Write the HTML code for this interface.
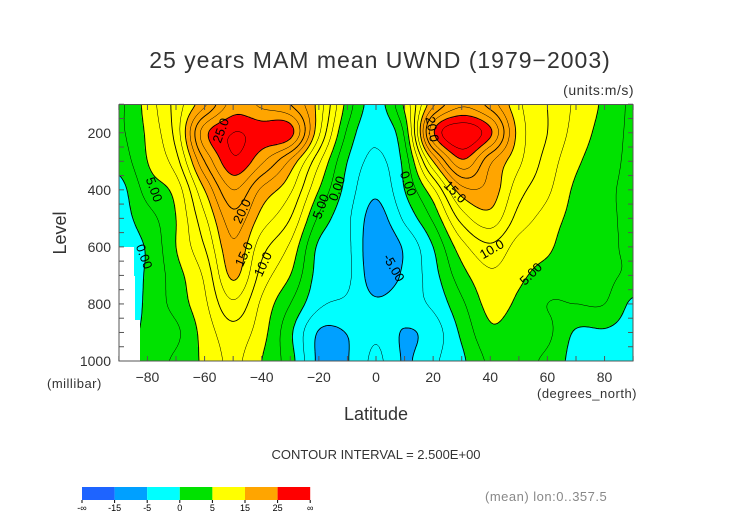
<!DOCTYPE html>
<html><head><meta charset="utf-8"><style>
html,body{margin:0;padding:0;background:#fff;}
#wrap{position:relative;width:752px;height:532px;overflow:hidden;font-family:"Liberation Sans",sans-serif;}
#fill{position:absolute;left:119px;top:105px;}
svg{position:absolute;left:0;top:0;}
</style></head><body>
<div id="wrap">
<canvas id="fill" width="514" height="256"></canvas>
<svg id="svg" width="752" height="532"></svg>
</div>
<script>
const lats=[-90,-80,-70,-60,-50,-40,-30,-20,-10,0,10,20,30,40,50,60,70,80,90];
const levels=[100,200,300,400,500,600,700,800,900,1000];
const u100=[2,6,11,17,23.5,22,20,14,4,-1,5.5,17,22,19,13,10,7,4.5,2];
const u200=[2,5.5,11,24,27.5,26.5,26,13,2,-2,3,24.5,29.5,25.5,14,10,6.5,4,2];
const u300=[1,5,9,20,27,23,17,8,0,-3,1,15,24.5,18,13,9,5.5,3.5,2];
const u400=[-1,3.5,6,15,22.5,17,13,5,-1,-4.5,0,7,16.5,16.5,11,8,4.5,3,2];
const u500=[-1,1.5,5,12,19,14,10,2,-2,-6,-2,3,11,14,9,6.5,4,3,2];
const u600=[-1,0.3,5,10,17,11,7,-0.5,-2,-7,-4.6,0,6.5,9.5,6.5,5.5,3,3,2];
const u700=[-1,0.3,4,8,15.5,9,5,-1,-2,-6.5,-4.5,-1,4,7,5.5,4,3,3,2];
const u800=[-2,0.5,3.5,7,12,7,2.5,-2,-3,-4.5,-3.5,-2,2,5.8,4.5,2.5,2.5,2.5,-0.5];
const u900=[-1,0.5,2,6,9,6,0.5,-5.2,-4.9,-3,-5.2,-3.8,0.5,4.5,3.5,3,-0.3,-0.3,-1];
const u1000=[-1,1,3,5.5,8,5,1,-5.5,-5.1,-2,-5.2,-3,-0.5,3,3,2,-1,-1,-1];
const yTicks=[200,400,600,800,1000];
const xTicks=[-80,-60,-40,-20,0,20,40,60,80];
const barLabels=["-\u221e","-15","-5","0","5","15","25","\u221e"];
const U=[u100,u200,u300,u400,u500,u600,u700,u800,u900,u1000];

const X0=376,XS=2.857,YB=361,YS=0.2853;
const xOf=lat=>X0+lat*XS;
const yOf=p=>YB-(1000-p)*YS;
const NS="http://www.w3.org/2000/svg";
const svg=document.getElementById('svg');
function mk(tag,attrs,parent){const e=document.createElementNS(NS,tag);for(const k in attrs)e.setAttribute(k,attrs[k]);(parent||svg).appendChild(e);return e;}
function cr(p0,p1,p2,p3,t){return 0.5*(2*p1+(-p0+p2)*t+(2*p0-5*p1+4*p2-p3)*t*t+(-p0+3*p1-3*p2+p3)*t*t*t);}
function gv(j,i){j=Math.max(0,Math.min(levels.length-1,j));i=Math.max(0,Math.min(lats.length-1,i));return U[j][i];}
function field(lat,p){
  let fi=(lat-lats[0])/10; fi=Math.max(0,Math.min(lats.length-1.0001,fi));
  let fj=(p-levels[0])/100; fj=Math.max(0,Math.min(levels.length-1.0001,fj));
  const i=Math.floor(fi),j=Math.floor(fj),a=fi-i,b=fj-j;
  const r=[];
  for(let jj=-1;jj<=2;jj++)r.push(cr(gv(j+jj,i-1),gv(j+jj,i),gv(j+jj,i+1),gv(j+jj,i+2),a));
  return cr(r[0],r[1],r[2],r[3],b);
}
function color(v){
  if(v<-15)return[30,100,255];if(v<-5)return[0,160,255];if(v<0)return[0,255,255];
  if(v<5)return[0,226,0];if(v<15)return[255,255,0];if(v<25)return[255,165,0];return[255,0,0];
}
const cv=document.getElementById('fill'),ctx=cv.getContext('2d');
const img=ctx.createImageData(514,256);
for(let y=0;y<256;y++)for(let x=0;x<514;x++){
  const X=119+x+0.5,Y=105+y+0.5;
  const c=color(field((X-X0)/XS,1000-(YB-Y)/YS));
  const k=(y*514+x)*4;img.data[k]=c[0];img.data[k+1]=c[1];img.data[k+2]=c[2];img.data[k+3]=255;
}
ctx.putImageData(img,0,0);
const st=2,nx=257,ny=128,G=[];
for(let j=0;j<=ny;j++){G.push([]);for(let i=0;i<=nx;i++){const X=119+i*st,Y=105+j*st;G[j].push(field((X-X0)/XS,1000-(YB-Y)/YS));}}
const cg=mk('g',{});


for(let lv=-10;lv<=30;lv+=2.5){
  let d='';
  for(let j=0;j<ny;j++)for(let i=0;i<nx;i++){
    const v=[G[j][i],G[j][i+1],G[j+1][i+1],G[j+1][i]];
    const P=[[119+i*st,105+j*st],[119+(i+1)*st,105+j*st],[119+(i+1)*st,105+(j+1)*st],[119+i*st,105+(j+1)*st]];
    const pts=[];
    for(let e=0;e<4;e++){const a=v[e],b=v[(e+1)%4];
      if((a<lv)!==(b<lv)){const t=(lv-a)/(b-a);const p1=P[e],p2=P[(e+1)%4];pts.push([p1[0]+t*(p2[0]-p1[0]),p1[1]+t*(p2[1]-p1[1])]);}}
    for(let k=0;k+1<pts.length;k+=2)d+=`M${pts[k][0].toFixed(1)} ${pts[k][1].toFixed(1)}L${pts[k+1][0].toFixed(1)} ${pts[k+1][1].toFixed(1)}`;
  }
  if(d){const pth=mk('path',{d:d,fill:'none',stroke:'#000','stroke-width':(lv%5===0?0.9:0.5),'stroke-dasharray':lv<0?'3,3':'none'},cg);
    
    }
}
[[119,247,15,29],[119,276,16,44],[119,320,21,41]].forEach(r=>{const m=mk('rect',{x:r[0],y:r[1],width:r[2],height:r[3],fill:'#fff'});
  
  });
const fr=mk('rect',{x:119,y:104.5,width:514,height:256.5,fill:'none',stroke:'#555','stroke-width':1});


for(let p=100;p<=1000;p+=50){const y=yOf(p);
  mk('line',{x1:119,x2:124,y1:y,y2:y,stroke:'#555'});mk('line',{x1:628,x2:633,y1:y,y2:y,stroke:'#555'});}
for(let l=-90;l<=90;l+=10){const x=xOf(l);mk('line',{x1:x,x2:x,y1:361,y2:356,stroke:'#555'});mk('line',{x1:x,x2:x,y1:105,y2:110,stroke:'#555'});}
yTicks.forEach(p=>{const t=mk('text',{x:111,y:yOf(p)+5,'text-anchor':'end','font-size':14,fill:'#333'});t.textContent=p;
  
  });
xTicks.forEach(l=>{const t=mk('text',{x:xOf(l),y:382,'text-anchor':'middle','font-size':14,fill:'#333'});t.textContent=(l<0?'\u2212'+(-l):l);
  
  });
function txt(s,x,y,size,name,extra){const t=mk('text',Object.assign({x:x,y:y,'font-size':size,fill:'#333'},extra||{}));t.textContent=s;
  
  return t;}
txt('25 years MAM mean UWND (1979\u22122003)',380,68,23,'chart-title',{'text-anchor':'middle','letter-spacing':'1'});
txt('(units:m/s)',634,95,14,'units-label',{'text-anchor':'end','letter-spacing':'0.5'});
txt('Level',66,233,18,'y-axis-title',{'text-anchor':'middle',transform:'rotate(-90 66 233)'});
txt('(millibar)',47,388,13,'y-axis-unit',{'letter-spacing':'0.5'});
txt('(degrees_north)',537,398,13,'x-axis-unit',{'letter-spacing':'0.5'});
txt('Latitude',376,420,18,'x-axis-title',{'text-anchor':'middle'});
txt('CONTOUR INTERVAL = 2.500E+00',376,459,13,'contour-interval',{'text-anchor':'middle'});
txt('(mean) lon:0..357.5',485,501,13,'lon-note',{fill:'#888','letter-spacing':'0.5'});
[['25.0',225,132,-70],['20.0',246,213,-65],['15.0',248,256,-65],['10.0',267,266,-65],['5.00',150,191,70],['0.00',140,258,70],['5.00',325,208,-70],['0.00',341,190,-70],
 ['20.0',428,130,80],['15.0',452,195,45],['10.0',494,253,-30],['5.00',534,277,-45],['0.00',404,185,70],['-5.00',390,270,60]].forEach(a=>{
  txt(a[0],a[1],a[2],13,'contour-label',{'text-anchor':'middle',transform:`rotate(${a[3]} ${a[1]} ${a[2]})`,fill:'#000'});});
const cb=[[30,100,255],[0,160,255],[0,255,255],[0,226,0],[255,255,0],[255,165,0],[255,0,0]];
cb.forEach((c,i)=>{const r=mk('rect',{x:82+i*32.6,y:487,width:32.6,height:13,fill:`rgb(${c})`});
  
  });
barLabels.forEach((s,i)=>{mk('line',{x1:82+i*32.6,x2:82+i*32.6,y1:500,y2:503,stroke:'#000'});
  txt(s,82+i*32.6,511,9,'colorbar-label',{'text-anchor':'middle',fill:'#000'});});
</script>
</body></html>
